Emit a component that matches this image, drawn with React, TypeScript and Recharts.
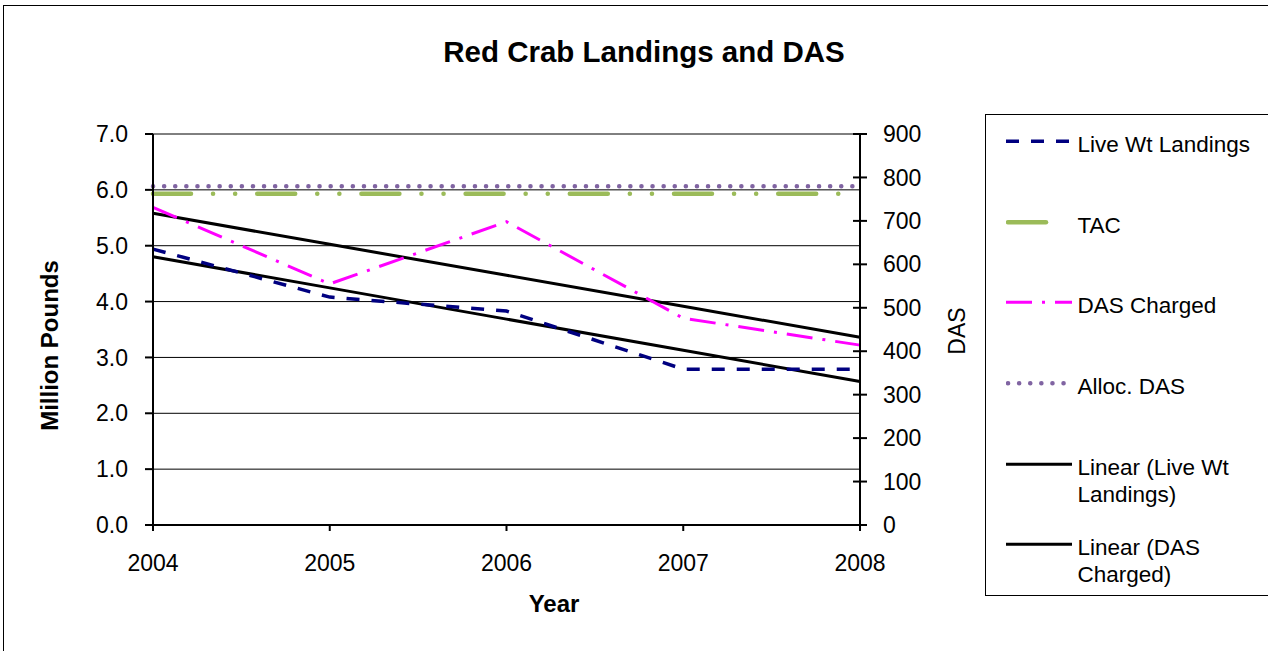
import { CartesianGrid, Label, Line, LineChart, XAxis, YAxis } from 'recharts'

// values
const years = [2004, 2005, 2006, 2007, 2008]
const liveWtLandings = [4.94, 4.08, 3.83, 2.79, 2.79]
const tac = [5.93, 5.93, 5.93, 5.93, 5.93]
const dasCharged = [731, 555, 698, 476, 414]
const allocatedDas = [780, 780, 780, 780, 780]

const poundTicks = [0, 1, 2, 3, 4, 5, 6, 7]
const dasTicks = [0, 100, 200, 300, 400, 500, 600, 700, 800, 900]

const FONT = '"Liberation Sans", Arial, Helvetica, sans-serif'

// least squares trend, same as the spreadsheet "Linear" trendline
function linearTrend(xs: number[], ys: number[]) {
  const n = xs.length
  const mx = xs.reduce((s, v) => s + v, 0) / n
  const my = ys.reduce((s, v) => s + v, 0) / n
  let num = 0
  let den = 0
  xs.forEach((x, i) => {
    num += (x - mx) * (ys[i] - my)
    den += (x - mx) * (x - mx)
  })
  const slope = num / den
  return xs.map((x) => my + slope * (x - mx))
}

const liveTrend = linearTrend(years, liveWtLandings)
const dasTrend = linearTrend(years, dasCharged)

const data = years.map((year, i) => ({
  year,
  live: liveWtLandings[i],
  tac: tac[i],
  das: dasCharged[i],
  alloc: allocatedDas[i],
  liveTrend: liveTrend[i],
  dasTrend: dasTrend[i],
}))

const styles = {
  live: { stroke: '#000080', width: 3.5, dash: '13 12', cap: 'butt' },
  tac: { stroke: '#9BBB59', width: 4.5, dash: '38 22 0.1 22 0.1 22', cap: 'round' },
  das: { stroke: '#FF00FF', width: 3, dash: '26 10 3 10', cap: 'butt' },
  alloc: { stroke: '#8064A2', width: 4.5, dash: '0.1 11', cap: 'round' },
  trend: { stroke: '#000000', width: 3, dash: undefined, cap: 'butt' },
} as const

const legendItems = [
  { label: ['Live Wt Landings'], style: styles.live, sample: [0, 66] },
  { label: ['TAC'], style: styles.tac, sample: [2, 41] },
  { label: ['DAS Charged'], style: styles.das, sample: [0, 66] },
  { label: ['Alloc. DAS'], style: styles.alloc, sample: [2, 62] },
  { label: ['Linear (Live Wt', 'Landings)'], style: styles.trend, sample: [0, 66] },
  { label: ['Linear (DAS', 'Charged)'], style: styles.trend, sample: [0, 66] },
]

function RightTick(props: any) {
  const { x, y, payload } = props
  return (
    <g>
      <line x1={x - 7} x2={x + 7} y1={y} y2={y} stroke="#000" strokeWidth={2} />
      <text x={x + 23} y={y} dy="0.355em" textAnchor="start" fontSize={23} fill="#000">
        {payload.value}
      </text>
    </g>
  )
}

function ChartLegend() {
  return (
    <div
      style={{
        position: 'absolute',
        left: 985,
        top: 114,
        width: 320,
        height: 482,
        border: '1.5px solid #000',
        background: '#fff',
        paddingTop: 16,
        boxSizing: 'border-box',
        fontFamily: FONT,
        fontSize: 22.5,
        lineHeight: '27px',
        color: '#000',
      }}
    >
      {legendItems.map((item) => (
        <div key={item.label.join(' ')} style={{ display: 'flex', height: 80.7, paddingLeft: 19.5 }}>
          <svg width={72} height={27} style={{ flex: 'none' }}>
            <line
              x1={item.sample[0]}
              x2={item.sample[1]}
              y1={10.3}
              y2={10.3}
              stroke={item.style.stroke}
              strokeWidth={item.style.width}
              strokeDasharray={item.style.dash}
              strokeLinecap={item.style.cap}
            />
          </svg>
          <div>
            {item.label.map((line) => (
              <div key={line} style={{ whiteSpace: 'nowrap' }}>
                {line}
              </div>
            ))}
          </div>
        </div>
      ))}
    </div>
  )
}

export default function App() {
  return (
    <div
      style={{
        position: 'fixed',
        left: 0,
        top: 0,
        width: 1268,
        height: 651,
        overflow: 'hidden',
        background: '#fff',
      }}
    >
      <div
        style={{
          position: 'absolute',
          left: 3,
          top: 5,
          width: 1300,
          height: 700,
          border: '1.5px solid #000',
        }}
      />
      <div
        style={{
          position: 'absolute',
          left: 644,
          top: 37,
          transform: 'translateX(-50%)',
          whiteSpace: 'nowrap',
          fontFamily: FONT,
          fontWeight: 'bold',
          fontSize: 29.5,
          lineHeight: '30px',
          color: '#000',
        }}
      >
        Red Crab Landings and DAS
      </div>
      <div style={{ position: 'absolute', left: 0, top: 0 }}>
        <LineChart
          width={1268}
          height={651}
          data={data}
          margin={{ top: 134, right: 283, bottom: 66, left: 0 }}
          style={{ fontFamily: FONT }}
        >
          <CartesianGrid yAxisId="left" vertical={false} stroke="#000" strokeWidth={1} />
          <XAxis
            dataKey="year"
            type="number"
            domain={[2004, 2008]}
            ticks={years}
            height={60}
            tickSize={6}
            tickMargin={24}
            axisLine={{ stroke: '#000', strokeWidth: 2 }}
            tickLine={{ stroke: '#000', strokeWidth: 2 }}
            tick={{ fill: '#000', fontSize: 23 }}
          >
            <Label
              content={(p: any) => {
                const vb = p.viewBox
                return (
                  <text
                    x={vb.x + 401}
                    y={603}
                    dy="0.355em"
                    textAnchor="middle"
                    fontSize={24}
                    fontWeight="bold"
                    fill="#000"
                  >
                    Year
                  </text>
                )
              }}
            />
          </XAxis>
          <YAxis
            yAxisId="left"
            orientation="left"
            width={153}
            domain={[0, 7]}
            ticks={poundTicks}
            tickFormatter={(v: number) => v.toFixed(1)}
            tickSize={8}
            tickMargin={17}
            axisLine={{ stroke: '#000', strokeWidth: 2 }}
            tickLine={{ stroke: '#000', strokeWidth: 2 }}
            tick={{ fill: '#000', fontSize: 23 }}
          >
            <Label
              content={(p: any) => {
                const vb = p.viewBox
                const cx = vb.x + 49
                const cy = vb.y + vb.height / 2 + 16
                return (
                  <text
                    x={cx}
                    y={cy}
                    dy="0.355em"
                    transform={`rotate(-90 ${cx} ${cy})`}
                    textAnchor="middle"
                    fontSize={24}
                    fontWeight="bold"
                    fill="#000"
                  >
                    Million Pounds
                  </text>
                )
              }}
            />
          </YAxis>
          <YAxis
            yAxisId="right"
            orientation="right"
            width={125}
            domain={[0, 900]}
            ticks={dasTicks}
            tickSize={0}
            tickMargin={0}
            axisLine={{ stroke: '#000', strokeWidth: 2 }}
            tickLine={false}
            tick={<RightTick />}
          >
            <Label
              content={(p: any) => {
                const vb = p.viewBox
                const cx = vb.x + 97
                const cy = vb.y + vb.height / 2 + 1.5
                return (
                  <text
                    x={cx}
                    y={cy}
                    dy="0.355em"
                    transform={`rotate(-90 ${cx} ${cy})`}
                    textAnchor="middle"
                    fontSize={23}
                    fill="#000"
                  >
                    DAS
                  </text>
                )
              }}
            />
          </YAxis>
          <Line
            yAxisId="left"
            dataKey="liveTrend"
            type="linear"
            stroke={styles.trend.stroke}
            strokeWidth={styles.trend.width}
            dot={false}
            activeDot={false}
            isAnimationActive={false}
          />
          <Line
            yAxisId="right"
            dataKey="dasTrend"
            type="linear"
            stroke={styles.trend.stroke}
            strokeWidth={styles.trend.width}
            dot={false}
            activeDot={false}
            isAnimationActive={false}
          />
          <Line
            yAxisId="left"
            dataKey="tac"
            type="linear"
            stroke={styles.tac.stroke}
            strokeWidth={styles.tac.width}
            strokeDasharray={styles.tac.dash}
            strokeLinecap="round"
            dot={false}
            activeDot={false}
            isAnimationActive={false}
          />
          <Line
            yAxisId="right"
            dataKey="alloc"
            type="linear"
            stroke={styles.alloc.stroke}
            strokeWidth={styles.alloc.width}
            strokeDasharray={styles.alloc.dash}
            strokeLinecap="round"
            dot={false}
            activeDot={false}
            isAnimationActive={false}
          />
          <Line
            yAxisId="right"
            dataKey="das"
            type="linear"
            stroke={styles.das.stroke}
            strokeWidth={styles.das.width}
            strokeDasharray={styles.das.dash}
            dot={false}
            activeDot={false}
            isAnimationActive={false}
          />
          <Line
            yAxisId="left"
            dataKey="live"
            type="linear"
            stroke={styles.live.stroke}
            strokeWidth={styles.live.width}
            strokeDasharray={styles.live.dash}
            dot={false}
            activeDot={false}
            isAnimationActive={false}
          />
        </LineChart>
      </div>
      <ChartLegend />
    </div>
  )
}
